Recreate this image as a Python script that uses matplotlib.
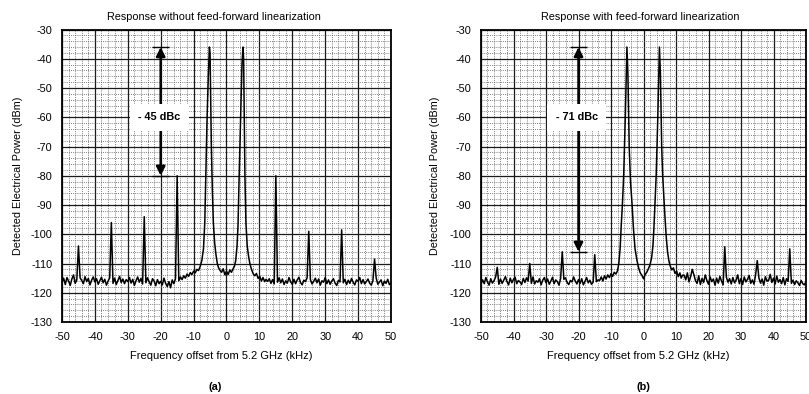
import numpy as np
import matplotlib
matplotlib.use("Agg")
import matplotlib.pyplot as plt
from matplotlib.ticker import MultipleLocator

plt.rcParams['font.family'] = ['Liberation Sans', 'DejaVu Sans']
plt.rcParams['font.size'] = 7.8
plt.rcParams['axes.unicode_minus'] = False

# ---------------- data ----------------
titles = ["Response without feed-forward linearization",
          "Response with feed-forward linearization"]
panel_tags = ["(a)", "(b)"]
xlabel = "Frequency offset from 5.2 GHz (kHz)"
ylabel = "Detected Electrical Power (dBm)"
x_ticks = [-50, -40, -30, -20, -10, 0, 10, 20, 30, 40, 50]
y_ticks = [-130, -120, -110, -100, -90, -80, -70, -60, -50, -40, -30]

# noise floor, left segment: -50 ... -14 kHz, step 0.5
noise_a_left = [
    -116.5, -115.0, -117.2, -114.8, -116.0, -117.5, -115.3, -113.9, -116.8, -115.6,
    -117.0, -114.9, -115.8, -116.9, -114.5, -116.2, -115.1, -117.3, -115.7, -114.6,
    -116.3, -115.2, -117.1, -115.9, -114.7, -116.6, -115.4, -117.4, -116.0, -114.9,
    -115.6, -116.8, -115.0, -117.2, -115.8, -114.4, -116.5, -115.3, -116.9, -115.5,
    -116.2, -114.8, -116.7, -115.4, -117.5, -115.9, -114.6, -116.4, -115.1, -117.0,
    -115.7, -116.6, -114.9, -116.3, -117.4, -115.2, -116.0, -117.6, -115.5, -116.9,
    -116.1, -117.3, -115.0, -116.8, -117.9, -116.2, -118.3, -115.6, -116.9, -115.2,
    -114.8, -115.9, -114.6]
# noise floor, right segment: 12.5 ... 50 kHz, step 0.5
noise_a_right = [
    -116.1, -115.2, -116.8, -115.5, -117.0, -115.8, -116.4, -114.9, -116.6, -115.3,
    -117.2, -115.9, -116.7, -114.8, -116.3, -117.1, -115.4, -116.9, -115.6, -114.7,
    -116.5, -117.3, -115.7, -116.2, -114.9, -116.8, -115.5, -117.0, -116.1, -115.0,
    -116.6, -115.3, -117.4, -115.9, -116.4, -114.8, -116.9, -115.6, -117.1, -116.0,
    -115.2, -116.7, -117.5, -115.8, -116.3, -114.9, -116.6, -115.4, -117.2, -115.7,
    -116.8, -115.1, -116.4, -117.3, -115.6, -116.1, -114.8, -116.9, -115.5, -117.0,
    -116.2, -115.3, -116.7, -117.4, -115.9, -116.5, -115.0, -117.1, -116.3, -115.6,
    -117.6, -116.0, -116.8, -115.4, -117.2, -116.6]
noise_b_left = [
    -117.0, -115.6, -116.9, -114.8, -116.3, -117.4, -115.2, -116.7, -115.9, -114.6,
    -116.4, -117.1, -115.3, -116.8, -115.7, -114.5, -116.2, -117.3, -115.0, -116.6,
    -115.4, -114.7, -116.9, -115.8, -116.3, -117.2, -115.1, -116.5, -114.9, -116.0,
    -115.5, -116.8, -114.6, -117.0, -115.9, -116.4, -115.2, -117.3, -115.7, -114.8,
    -116.6, -115.3, -117.1, -116.0, -114.7, -116.9, -115.6, -116.2, -117.4, -115.1,
    -116.7, -115.4, -114.9, -116.5, -117.2, -115.8, -116.3, -114.6, -116.0, -117.0,
    -115.5, -116.8, -115.2, -117.3, -116.1, -114.8, -116.6, -115.7, -117.1, -116.4,
    -115.0, -116.2, -115.6]
noise_b_right = [
    -114.0, -115.6, -113.2, -116.3, -114.5, -117.0, -113.8, -115.9, -116.8, -114.2,
    -117.2, -115.1, -116.5, -113.9, -115.8, -117.1, -114.6, -116.2, -115.3, -117.4,
    -115.0, -116.7, -114.4, -116.0, -117.3, -115.5, -114.7, -116.4, -115.2, -117.0,
    -114.8, -116.6, -115.7, -113.9, -116.9, -115.1, -117.2, -114.6, -116.3, -115.4,
    -114.1, -116.8, -115.6, -117.1, -113.8, -116.2, -114.9, -116.7, -115.3, -117.4,
    -114.5, -116.0, -115.8, -113.7, -116.5, -115.0, -117.0, -114.3, -116.4, -115.5,
    -116.9, -114.8, -117.3, -115.2, -116.1, -114.6, -116.8, -115.7, -117.2, -115.9,
    -116.6, -117.5, -115.8, -116.9, -117.3, -116.2]

# main two-tone region, explicit points (kHz, dBm)
center_a_f = [-13.5, -13.0, -12.5, -12.0, -11.5, -11.0, -10.5, -10.0, -9.5, -9.0,
              -8.5, -8.0, -7.5, -7.0, -6.6, -6.3, -5.9, -5.5, -5.2, -5.0,
              -4.8, -4.6, -4.3, -4.0, -3.6, -3.2, -2.8, -2.4, -2.0, -1.5,
              -1.0, -0.5, 0.0, 0.5, 1.0, 1.5, 2.0, 2.4, 2.8, 3.2,
              3.5, 3.85, 4.3, 4.7, 5.0, 5.2, 5.4, 5.6, 5.9, 6.3,
              6.7, 7.1, 7.6, 8.1, 8.6, 9.1, 9.6, 10.1, 10.6, 11.1,
              11.6, 12.0]
center_a_p = [-115.5, -114.2, -115.0, -113.6, -114.4, -113.1, -113.8, -112.6, -113.2, -112.0,
              -112.4, -111.0, -109.0, -105.0, -96.0, -80.0, -60.0, -45.0, -36.0, -38.0,
              -55.0, -70.0, -85.0, -96.0, -103.0, -107.0, -110.0, -111.5, -112.3, -113.0,
              -111.8, -113.9, -112.6, -113.8, -112.2, -113.0, -111.8, -111.0, -109.0, -104.0,
              -97.0, -80.0, -60.0, -42.0, -36.0, -40.0, -60.0, -80.0, -96.0, -104.0,
              -107.5, -110.0, -112.0, -113.5, -114.2, -113.4, -115.1, -114.3, -116.0, -114.8,
              -116.2, -115.4]
center_b_f = [-13.5, -13.0, -12.5, -12.0, -11.5, -11.0, -10.5, -10.0, -9.5, -9.0,
              -8.5, -8.0, -7.6, -7.2, -6.9, -6.5, -6.1, -5.6, -5.1, -4.8,
              -4.4, -4.0, -3.5, -3.1, -2.6, -2.0, -1.5, -1.0, -0.5, 0.0,
              0.5, 1.0, 1.5, 2.0, 2.5, 2.9, 3.2, 3.6, 3.9, 4.4,
              4.9, 5.2, 5.6, 5.9, 6.2, 6.6, 7.0, 7.4, 7.8, 8.2,
              8.7, 9.2, 9.7, 10.2, 10.7, 11.2, 11.6, 12.0]
center_b_p = [-115.8, -114.6, -116.0, -114.2, -115.3, -113.9, -114.8, -113.5, -114.4, -113.0,
              -113.6, -112.5, -110.0, -105.0, -98.0, -90.0, -80.0, -60.0, -36.0, -45.0,
              -70.0, -82.0, -90.0, -98.0, -105.0, -109.0, -111.5, -113.2, -114.0, -115.2,
              -113.8, -113.0, -111.8, -110.5, -108.0, -104.0, -98.0, -88.0, -80.0, -60.0,
              -36.0, -45.0, -70.0, -80.0, -86.0, -94.0, -101.0, -106.0, -109.0, -110.8,
              -112.2, -111.5, -113.4, -112.6, -114.5, -113.2, -115.0, -114.0]

# intermodulation spurs (kHz, dBm)
spur_a_f = [-45, -35, -25, -15, 15, 25, 35, 45]
spur_a_p = [-104.0, -96.0, -94.0, -80.0, -80.0, -99.0, -98.5, -108.5]
spur_b_f = [-45, -35, -25, -15, 15, 25, 35, 45]
spur_b_p = [-111.3, -110.0, -106.0, -107.0, -112.0, -104.3, -109.0, -105.0]

# dBc annotations: (x, top, bottom, label)
ann_a = (-20, -36, -80, "- 45 dBc")
ann_b = (-20, -36, -106, "- 71 dBc")


def build_trace(nl, nr, cf, cp, sf, sp):
    fl = np.arange(len(nl)) * 0.5 - 50.0
    fr = np.arange(len(nr)) * 0.5 + 12.5
    yl = np.array(nl, dtype=float)
    yr = np.array(nr, dtype=float)
    for f0, p0 in zip(sf, sp):
        if f0 < 0:
            yl[np.argmin(np.abs(fl - f0))] = p0
        else:
            yr[np.argmin(np.abs(fr - f0))] = p0
    f = np.concatenate([fl, np.array(cf), fr])
    y = np.concatenate([yl, np.array(cp), yr])
    return f, y


W, H = 809, 394
fig = plt.figure(figsize=(W / 100, H / 100), dpi=100)
axes_px = [(62, 391), (481, 806)]
top_px, bot_px = 29.5, 322
title_x = [0.462, 0.49]
tag_x_px = [215, 643]

panels = [
    (noise_a_left, noise_a_right, center_a_f, center_a_p, spur_a_f, spur_a_p, ann_a),
    (noise_b_left, noise_b_right, center_b_f, center_b_p, spur_b_f, spur_b_p, ann_b),
]

for i, (nl, nr, cf, cp, sf, sp, ann) in enumerate(panels):
    x0, x1 = axes_px[i]
    ax = fig.add_axes([x0 / W, 1 - bot_px / H, (x1 - x0) / W, (bot_px - top_px) / H])
    f, y = build_trace(nl, nr, cf, cp, sf, sp)
    ax.plot(f, y, color='black', lw=1.1, zorder=3)

    ax.set_xlim(-50, 50)
    ax.set_ylim(-130, -30)
    ax.set_xticks(x_ticks)
    ax.set_yticks(y_ticks)
    ax.xaxis.set_minor_locator(MultipleLocator(2))
    ax.yaxis.set_minor_locator(MultipleLocator(2))
    ax.grid(which='major', color='#1a1a1a', lw=0.9, ls='-', zorder=1)
    ax.grid(which='minor', color='#555555', lw=0.55, ls=(0, (1.2, 1.6)), zorder=1)
    ax.tick_params(which='both', direction='in', length=0, pad=7, labelsize=7.8)
    for s in ax.spines.values():
        s.set_linewidth(1.3)
        s.set_zorder(5)

    ax.set_title(titles[i], fontsize=7.8, pad=7, x=title_x[i])
    ax.set_xlabel(xlabel, fontsize=8)
    ax.set_ylabel(ylabel, fontsize=7.8)
    ax.yaxis.label.set_va('center')
    ax.xaxis.set_label_coords(0.483, -0.1)
    ax.yaxis.set_label_coords(-0.134 if i == 0 else -0.1415, 0.5)

    xa, ytop, ybot, label = ann
    ax.annotate('', xy=(xa, ytop), xytext=(xa, ybot),
                arrowprops=dict(arrowstyle='<|-|>', color='black', lw=1.8,
                                mutation_scale=13, shrinkA=0, shrinkB=0),
                zorder=6)
    ax.hlines([ytop, ybot], xa - 2.5, xa + 2.5, color='black', lw=1.0, zorder=6)
    ax.text(xa - 0.5, -60, label, ha='center', va='center', fontsize=7.8,
            fontweight='bold', zorder=7,
            bbox=dict(facecolor='white', edgecolor='none', pad=6))

    fig.text(tag_x_px[i] / W, 1 - 386.7 / H, panel_tags[i], ha='center',
             va='center', fontsize=7.8, fontweight='bold')

fig.savefig('out.png', dpi=100)
